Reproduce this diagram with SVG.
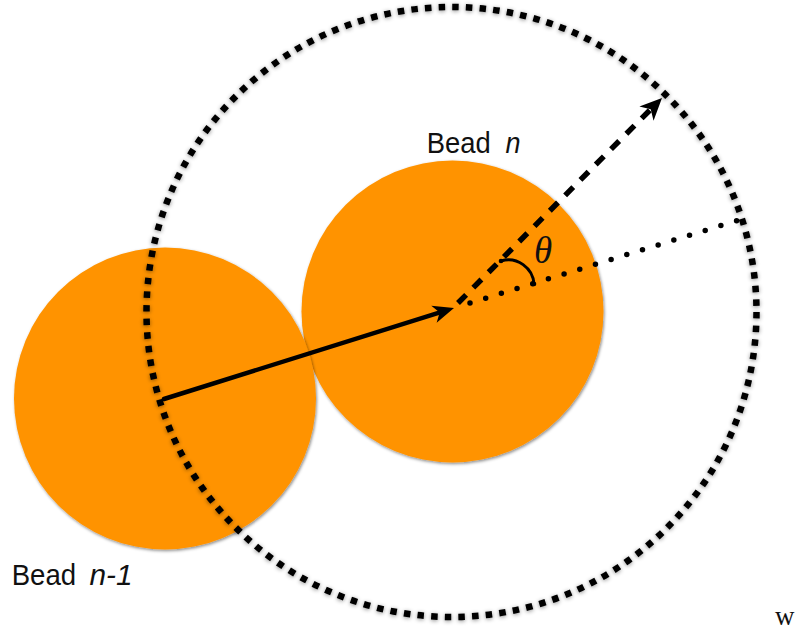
<svg xmlns="http://www.w3.org/2000/svg" width="797" height="631" viewBox="0 0 797 631">
<defs>
<filter id="shBead" x="-10%" y="-10%" width="120%" height="120%">
<feDropShadow dx="1" dy="1.5" stdDeviation="1.5" flood-color="#000" flood-opacity="0.45"/>
</filter>
<filter id="shDots" x="-5%" y="-5%" width="110%" height="110%">
<feDropShadow dx="0" dy="1" stdDeviation="2.2" flood-color="#000" flood-opacity="0.45"/>
</filter>
</defs>
<style>
.bead{fill:#ff9300;filter:url(#shBead)}
.lbl{font-family:"Liberation Sans","DejaVu Sans",sans-serif;font-size:30px;fill:#111}
.it{font-style:italic}
.ser{font-family:"Liberation Serif","DejaVu Serif",serif;fill:#111}
.head{fill:#000}
</style>
<rect width="797" height="631" fill="#fff"/>
<g id="bead-n"><circle class="bead" cx="452.5" cy="311.5" r="151"/></g>
<g id="bead-n-1"><circle class="bead" cx="165" cy="398.5" r="151"/></g>
<g id="cutoff-sphere">
<circle cx="451.5" cy="312" r="305" fill="none" stroke="#000" stroke-width="6.5" stroke-dasharray="6.5 7.19" filter="url(#shDots)"/>
</g>
<g id="connectors">
<line x1="164" y1="399" x2="440" y2="312.4" stroke="#000" stroke-width="4.5" stroke-linecap="round"/>
<path class="head" transform="translate(454,308) rotate(-17.4)" d="M0,0 L-21,-9 L-15,0 L-21,9 Z"/>
<line x1="458" y1="303" x2="652" y2="108" stroke="#000" stroke-width="5.5" stroke-dasharray="11.5 10.2"/>
<path class="head" transform="translate(662,98) rotate(-45.1)" d="M0,0 L-22,-10 L-16,0 L-22,10 Z"/>
<line x1="470" y1="303" x2="736.7" y2="220.7" stroke="#000" stroke-width="5.5" stroke-linecap="round" stroke-dasharray="0 16.41"/>
<path d="M501,261 C517,256 533,268 534,284" fill="none" stroke="#000" stroke-width="3" stroke-linecap="round"/>
<circle cx="501" cy="261" r="2.3"/>
<circle cx="534" cy="284" r="2.3"/>
</g>
<g id="labels">
<text class="lbl" x="426.7" y="152.7" textLength="64" lengthAdjust="spacingAndGlyphs">Bead</text>
<text class="lbl it" x="505.5" y="152.7" textLength="15" lengthAdjust="spacingAndGlyphs">n</text>
<text class="lbl" x="11.7" y="585" textLength="64.5" lengthAdjust="spacingAndGlyphs">Bead</text>
<text class="lbl it" x="89.5" y="585" textLength="43" lengthAdjust="spacingAndGlyphs">n-1</text>
<text class="ser it" x="534" y="263" font-size="37">θ</text>
<text class="ser" x="775" y="625" font-size="27">w</text>
</g>
</svg>
